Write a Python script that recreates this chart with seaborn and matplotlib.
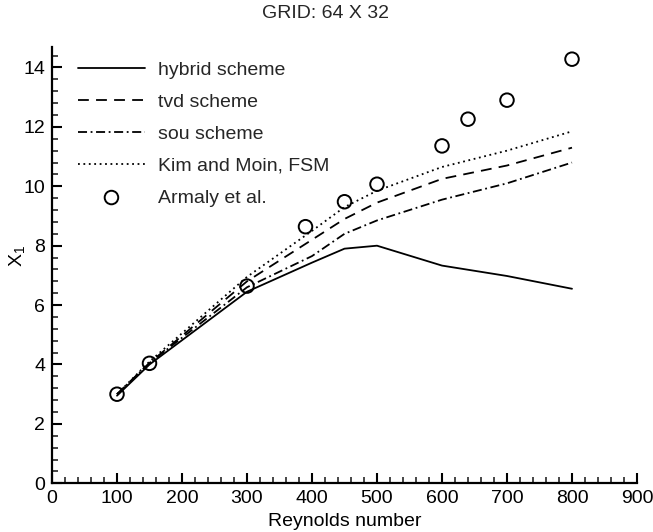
import matplotlib
matplotlib.use("Agg")
import matplotlib.pyplot as plt
import seaborn as sns
from matplotlib.ticker import MultipleLocator

sns.set_theme(style="white")
plt.rcParams['font.family'] = ['Liberation Sans', 'DejaVu Sans']
plt.rcParams['mathtext.default'] = 'regular'

# ---- data ----
re_sim = [100, 150, 300, 400, 450, 500, 600, 700, 800]
hybrid = [2.95, 4.0, 6.45, 7.43, 7.9, 8.0, 7.33, 6.98, 6.55]
tvd = [3.0, 4.05, 6.8, 8.2, 8.9, 9.45, 10.25, 10.7, 11.3]
sou = [3.0, 4.05, 6.6, 7.65, 8.4, 8.85, 9.55, 10.1, 10.8]
kim_moin = [3.0, 4.1, 6.95, 8.5, 9.3, 9.85, 10.65, 11.2, 11.85]
re_exp = [100, 150, 300, 390, 450, 500, 600, 640, 700, 800]
armaly = [3.0, 4.04, 6.64, 8.64, 9.48, 10.07, 11.36, 12.26, 12.9, 14.28]

FS = 14

fig = plt.figure(figsize=(6.53, 5.32), dpi=100)
ax = fig.add_axes([52/653, 1-483.3/532, 585/653, 436.6/532])

lw = 1.3
sns.lineplot(x=re_sim, y=hybrid, ax=ax, color='black', lw=lw, linestyle='-', label='hybrid scheme')
sns.lineplot(x=re_sim, y=tvd, ax=ax, color='black', lw=lw, linestyle=(0, (6, 4)), label='tvd scheme')
sns.lineplot(x=re_sim, y=sou, ax=ax, color='black', lw=lw, linestyle=(0, (5, 2, 1, 2)), label='sou scheme')
sns.lineplot(x=re_sim, y=kim_moin, ax=ax, color='black', lw=lw, linestyle=(0, (1, 2)), label='Kim and Moin, FSM')
sns.scatterplot(x=re_exp, y=armaly, ax=ax, marker='o', s=95, facecolor='none',
                edgecolor='black', color='black', linewidth=1.4, label='Armaly et al.', zorder=5)

ax.set_xlim(0, 900)
ax.set_ylim(0, 14.7)
ax.xaxis.set_major_locator(MultipleLocator(100))
ax.xaxis.set_minor_locator(MultipleLocator(20))
ax.yaxis.set_major_locator(MultipleLocator(2))
ax.yaxis.set_minor_locator(MultipleLocator(0.4))
ax.tick_params(which='major', direction='in', length=7, width=1.5, labelsize=FS,
               bottom=True, left=True, pad=5, colors='black')
ax.tick_params(which='minor', direction='in', length=4, width=1.2, bottom=True, left=True)
for s in ['top', 'right']:
    ax.spines[s].set_visible(False)
for s in ['left', 'bottom']:
    ax.spines[s].set_color('black')
    ax.spines[s].set_linewidth(1.6)
ax.grid(False)

ax.set_xlabel('Reynolds number', fontsize=FS, labelpad=4, color='black')
ax.set_ylabel('$X_1$', fontsize=FS, color='black')
ax.yaxis.set_label_coords(-0.043, 0.52)

fig.text(325/653, 1-13/532, 'GRID: 64 X 32', ha='center', va='center', fontsize=FS)

leg = ax.legend(loc='upper left', bbox_to_anchor=(0.031, 0.985), frameon=False, fontsize=FS,
                handlelength=3.45, handletextpad=0.67, labelspacing=0.74, borderaxespad=0)

fig.savefig('out.png', dpi=100)
